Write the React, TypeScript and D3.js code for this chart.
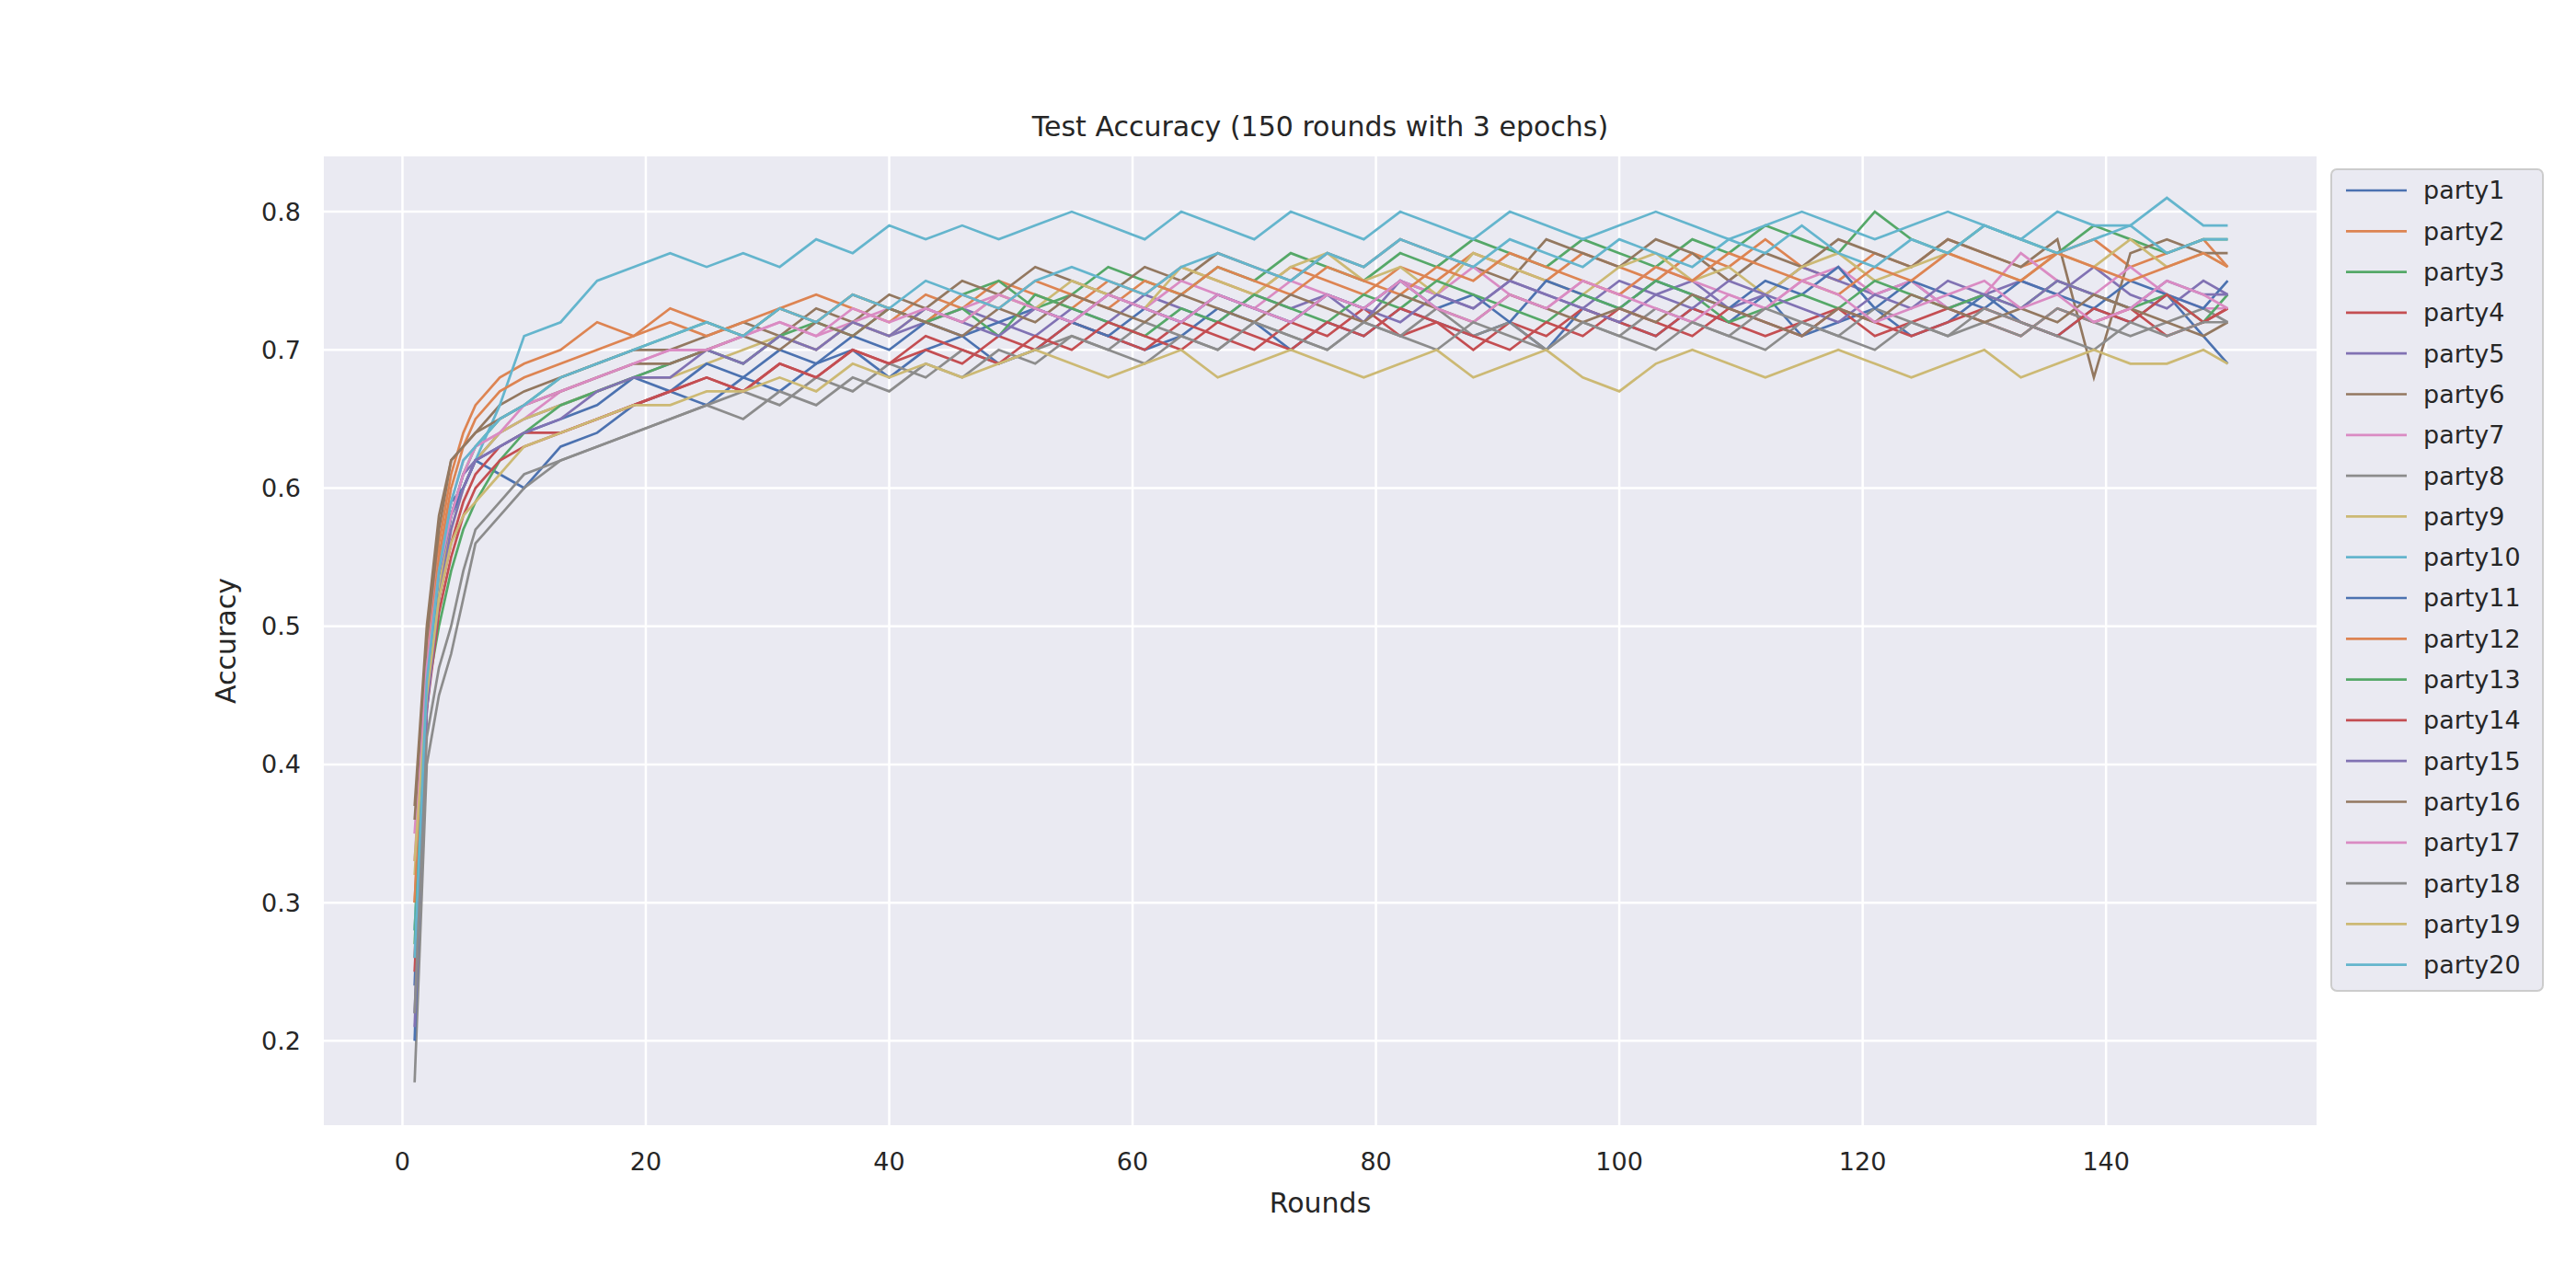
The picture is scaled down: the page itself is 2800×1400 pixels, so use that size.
import React from "react";
import * as d3 from "d3";

const rounds: number[] = [1, 2, 3, 4, 5, 6, 8, 10, ...d3.range(13, 149, 3), 150];

const parse = (s: string) => s.trim().split(/\s+/).map((v) => +v / 100);

const party1 = parse("24 47 55 59 60 62 61 60 63 64 66 67 66 68 67 69 70 68 70 71 69 70 72 71 70 71 73 72 70 72 71 73 72 71 72 70 73 72 71 73 72 74 71 72 73 71 72 74 72 71 73 72 74 71 69");
const party2 = parse("30 48 56 61 64 66 68 69 70 72 71 73 72 71 73 74 73 72 74 73 75 74 73 75 74 76 75 74 76 75 74 76 75 77 76 75 77 76 75 77 76 78 76 75 77 76 78 77 76 77 78 76 77 78 76");
const party3 = parse("28 46 53 58 61 63 65 66 68 69 70 71 72 71 73 72 74 73 72 74 75 73 74 76 75 74 76 75 77 76 75 77 76 78 77 76 78 77 76 78 77 79 78 77 80 78 77 79 78 77 79 78 77 78 78");
const party4 = parse("26 45 52 56 59 61 63 64 64 65 66 67 68 67 69 68 70 69 70 69 71 70 72 71 70 72 71 70 72 71 73 71 72 70 72 71 73 72 71 73 72 71 72 73 71 72 73 72 71 73 72 73 71 72 73");
const party5 = parse("22 44 53 58 61 62 64 65 66 67 68 69 70 69 71 70 72 71 72 73 72 71 73 72 74 73 72 74 73 74 72 75 74 73 75 74 73 75 74 75 73 74 76 75 74 75 73 74 75 74 76 74 73 75 74");
const party6 = parse("37 50 58 62 63 64 66 67 68 69 70 70 71 72 71 73 72 74 73 75 74 76 75 74 76 75 77 76 75 77 76 78 77 76 75 78 77 76 78 77 75 77 76 78 77 76 78 77 76 78 68 77 78 77 77");
const party7 = parse("35 48 55 59 62 63 64 65 67 68 69 70 70 71 72 71 72 73 72 73 74 73 72 74 73 75 74 73 75 74 73 75 74 76 74 73 75 74 76 75 74 73 75 76 74 75 73 74 77 75 74 76 74 73 73");
const party8 = parse("17 40 45 48 52 56 58 60 62 63 64 65 66 67 66 68 67 69 68 70 69 70 71 70 72 71 70 72 71 70 72 71 73 71 72 70 72 71 73 72 71 70 72 71 73 72 71 72 71 73 72 71 72 73 72");
const party9 = parse("32 46 53 57 60 62 64 65 66 67 68 68 69 70 71 70 72 71 73 72 74 73 75 74 73 76 75 74 76 77 75 76 74 77 76 75 74 76 77 75 76 74 76 77 75 76 77 76 75 77 76 78 76 77 76");
const party10 = parse("28 45 54 58 60 62 66 71 72 75 76 77 76 77 76 78 77 79 78 79 78 79 80 79 78 80 79 78 80 79 78 80 79 78 80 79 78 79 80 79 78 79 80 79 78 79 80 79 78 80 79 79 81 79 79");
const party11 = parse("20 46 54 58 60 62 63 64 65 66 68 67 69 68 70 69 71 70 72 71 72 73 72 71 73 72 74 73 72 74 73 75 73 74 72 75 74 73 75 74 73 75 74 76 73 75 74 73 75 74 73 75 74 73 75");
const party12 = parse("30 47 55 60 63 65 67 68 69 70 71 72 71 72 73 72 74 73 72 74 73 75 74 73 75 74 76 75 74 76 75 74 76 75 77 76 75 74 76 75 77 76 75 74 76 75 77 76 75 77 76 75 76 77 76");
const party13 = parse("27 45 50 54 57 59 62 64 66 67 68 69 70 69 71 72 71 73 72 73 71 74 73 72 71 73 72 74 73 72 74 73 75 74 73 72 74 73 75 74 72 73 74 73 75 74 73 74 73 75 74 73 74 72 74");
const party14 = parse("25 44 51 55 58 60 62 63 64 65 66 67 68 67 69 68 70 69 71 70 69 71 70 72 71 70 72 71 70 72 71 73 72 71 70 72 71 73 72 71 73 72 71 73 72 71 72 73 72 71 73 72 74 72 73");
const party15 = parse("21 44 52 57 60 62 63 64 65 67 68 68 70 69 71 70 72 71 73 72 71 73 72 74 73 72 74 73 72 74 73 72 74 73 75 74 73 72 74 73 75 74 73 72 74 73 75 74 73 75 74 73 75 74 74");
const party16 = parse("36 49 57 62 63 64 65 66 67 68 69 69 70 71 70 72 71 73 72 71 73 72 74 73 72 74 73 72 74 73 72 74 73 72 74 73 72 73 72 74 73 72 71 73 72 74 73 72 73 72 74 73 72 71 72");
const party17 = parse("33 47 54 58 61 63 64 66 67 68 69 70 70 71 72 71 73 72 73 72 74 73 72 74 73 72 74 73 72 74 73 75 73 72 74 73 75 74 73 72 74 73 75 74 72 73 74 75 73 74 72 73 75 74 73");
const party18 = parse("22 42 47 50 54 57 59 61 62 63 64 65 66 65 67 66 68 67 69 68 70 69 71 70 69 71 70 72 71 70 72 71 70 72 71 70 72 71 70 72 71 73 72 71 70 72 71 73 72 71 70 72 71 72 72");
const party19 = parse("33 45 52 56 58 59 61 63 64 65 66 66 67 67 68 67 69 68 69 68 69 70 69 68 69 70 68 69 70 69 68 69 70 68 69 70 68 67 69 70 69 68 69 70 69 68 69 70 68 69 70 69 69 70 69");
const party20 = parse("26 46 54 59 62 63 65 66 68 69 70 71 72 71 73 72 74 73 75 74 73 75 76 75 74 76 77 76 75 77 76 78 77 76 78 77 76 78 77 76 78 77 79 77 76 78 77 79 78 77 78 79 77 78 78");

const series = [party1, party2, party3, party4, party5, party6, party7, party8, party9, party10,
  party11, party12, party13, party14, party15, party16, party17, party18, party19, party20];
const names = series.map((_, i) => `party${i + 1}`);
const palette = ["#4c72b0", "#dd8452", "#55a868", "#c44e52", "#8172b3", "#937860", "#da8bc3", "#8c8c8c", "#ccb974", "#64b5cd"];

const xTicks = [0, 20, 40, 60, 80, 100, 120, 140];
const yTicks = [0.2, 0.3, 0.4, 0.5, 0.6, 0.7, 0.8];

export default function App() {
  const W = 2800, H = 1400;
  const left = 352, right = 2518, top = 170, bottom = 1223;
  const x = d3.scaleLinear().domain([-6.46, 157.3]).range([left, right]);
  const y = d3.scaleLinear().domain([0.139, 0.84]).range([bottom, top]);
  const line = d3.line<number>().x((_, i) => x(rounds[i])).y((d) => y(d));
  const font = "'DejaVu Sans', sans-serif";

  return (
    <svg width={W} height={H} style={{ position: "absolute", left: 0, top: 0, background: "#fff" }} fontFamily={font}>
      <rect x={left} y={top} width={right - left} height={bottom - top} fill="#eaeaf2" />
      {xTicks.map((t) => (
        <g key={"x" + t}>
          <line x1={x(t)} x2={x(t)} y1={top} y2={bottom} stroke="#fff" strokeWidth={2.5} />
          <text x={x(t)} y={1272} fontSize={27} textAnchor="middle" fill="#262626">{t}</text>
        </g>
      ))}
      {yTicks.map((t) => (
        <g key={"y" + t}>
          <line x1={left} x2={right} y1={y(t)} y2={y(t)} stroke="#fff" strokeWidth={2.5} />
          <text x={327} y={y(t)} dy="0.35em" fontSize={27} textAnchor="end" fill="#262626">{t.toFixed(1)}</text>
        </g>
      ))}
      <g clipPath="url(#c)">
        {series.map((s, i) => (
          <path key={i} d={line(s) || ""} fill="none" stroke={palette[i % 10]} strokeWidth={2.7} />
        ))}
      </g>
      <defs>
        <clipPath id="c"><rect x={left} y={top} width={right - left} height={bottom - top} /></clipPath>
      </defs>
      <text x={(left + right) / 2} y={148} fontSize={30} textAnchor="middle" fill="#262626">
        Test Accuracy (150 rounds with 3 epochs)
      </text>
      <text x={(left + right) / 2} y={1318} fontSize={30} textAnchor="middle" fill="#262626">Rounds</text>
      <text transform={`translate(256,${(top + bottom) / 2}) rotate(-90)`} fontSize={30} textAnchor="middle" fill="#262626">Accuracy</text>
      <rect x={2534} y={184} width={230} height={893} rx={6} fill="#eaeaf2" stroke="#cccccc" strokeWidth={2} />
      {names.map((n, i) => {
        const ly = 207 + i * 44.3;
        return (
          <g key={n}>
            <line x1={2550} x2={2616} y1={ly} y2={ly} stroke={palette[i % 10]} strokeWidth={2.7} />
            <text x={2634} y={ly} dy="0.35em" fontSize={27} fill="#262626">{n}</text>
          </g>
        );
      })}
    </svg>
  );
}
